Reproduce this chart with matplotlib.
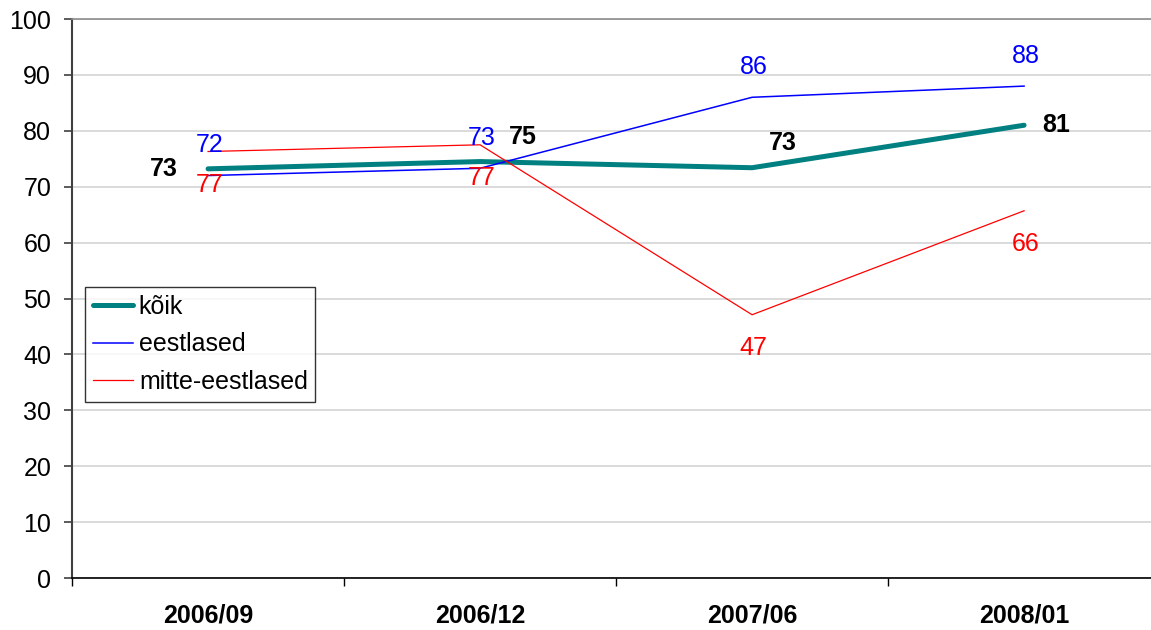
import numpy as np
import matplotlib
matplotlib.use("Agg")
import matplotlib.pyplot as plt

plt.rcParams['font.family'] = ['Liberation Sans', 'DejaVu Sans']

# data
periods = ["2006/09", "2006/12", "2007/06", "2008/01"]
koik = [73.2, 74.5, 73.4, 81.0]
eestlased = [72.0, 73.3, 86.0, 88.0]
mitte = [76.3, 77.5, 47.1, 65.7]
koik_labels = ["73", "75", "73", "81"]
eest_labels = ["72", "73", "86", "88"]
mitte_labels = ["77", "77", "47", "66"]

# label offsets (points) for the thick series, placed by hand in the original
koik_offsets = [(-32, 0), (31, 18), (22, 18), (23, 0)]

fig = plt.figure(figsize=(11.51, 6.30), dpi=100)
ax = fig.add_axes([0.0626, 0.0825, 0.9453, 0.8873])

x = np.arange(len(periods))
ax.plot(x, koik, color="#008080", lw=3.6, solid_capstyle="round", label="kõik", zorder=3)
ax.plot(x, eestlased, color="#0000FF", lw=1.1, label="eestlased", zorder=4)
ax.plot(x, mitte, color="#FF0000", lw=0.9, label="mitte-eestlased", zorder=5)

for xi, v, t in zip(x, eestlased, eest_labels):
    ax.annotate(t, (xi, v), xytext=(1, 22), textcoords="offset points",
                ha="center", va="center", color="#0000FF", fontsize=18, zorder=6)
for xi, v, t in zip(x, mitte, mitte_labels):
    ax.annotate(t, (xi, v), xytext=(1, -24), textcoords="offset points",
                ha="center", va="center", color="#FF0000", fontsize=18, zorder=6)
for xi, v, t, off in zip(x, koik, koik_labels, koik_offsets):
    ax.annotate(t, (xi, v), xytext=off, textcoords="offset points",
                ha="center", va="center", color="black", fontsize=18,
                fontweight="bold", zorder=6)

ax.set_xlim(-0.5, len(periods) - 0.5)
ax.set_ylim(0, 100)
ax.set_yticks(np.arange(0, 101, 10))
ax.set_xticks(x)
ax.set_xticklabels(periods, fontsize=18, fontweight="bold")
ax.set_xticks(np.arange(-0.5, len(periods), 1), minor=True)
ax.tick_params(axis="x", which="major", length=0, pad=18)
ax.tick_params(axis="x", which="minor", length=6, width=1, color="black", direction="out")
ax.tick_params(axis="y", labelsize=18, length=6, width=1.2, color="#404040", pad=9)

ax.yaxis.grid(True, color="#d4d4d4", lw=1.2)
ax.set_axisbelow(True)
ax.spines["right"].set_visible(False)
ax.spines["top"].set_color("#8c8c8c")
ax.spines["top"].set_linewidth(1.2)
ax.spines["left"].set_color("#404040")
ax.spines["left"].set_linewidth(1.5)
ax.spines["bottom"].set_color("black")
ax.spines["bottom"].set_linewidth(1.2)

leg = ax.legend(loc="upper left", bbox_to_anchor=(0.012, 0.5206), borderaxespad=0,
                fontsize=18, frameon=True, fancybox=False, handlelength=1.6,
                handletextpad=0.25, labelspacing=0.55, borderpad=0.3)
leg.get_frame().set_edgecolor("black")
leg.get_frame().set_linewidth(1.0)

fig.savefig("out.png", dpi=100)
